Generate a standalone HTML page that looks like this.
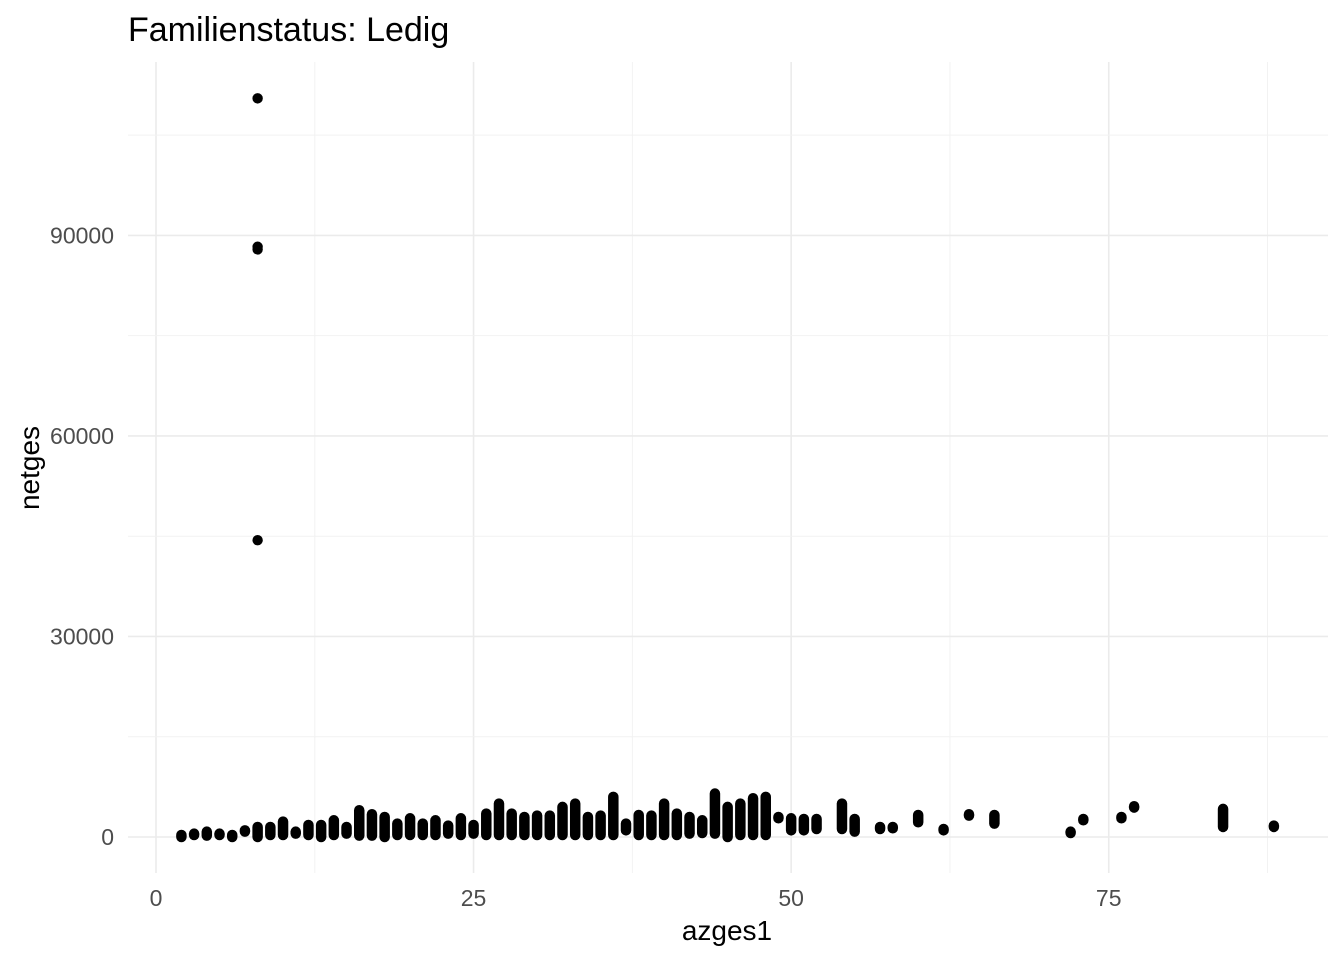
<!DOCTYPE html>
<html><head><meta charset="utf-8"><style>
body{margin:0;background:#fff;}
svg{display:block;font-family:"Liberation Sans",Arial,sans-serif;}
</style></head><body>
<svg id="chart" width="1344" height="960">
<text x="128" y="41" font-size="34" fill="#000">Familienstatus: Ledig</text>
<g id="grid"></g>
<g id="ticks"></g>
<g id="points"></g>
<text x="727" y="940" font-size="28" text-anchor="middle" fill="#000">azges1</text>
<text transform="translate(39,468) rotate(-90)" font-size="28" text-anchor="middle" fill="#000">netges</text>
</svg>
<script>
const xTicks=[0,25,50,75];
const yTicks=[0,30000,60000,90000];
const stripeX=[2,3,4,5,6,7,8,9,10,11,12,13,14,15,16,17,18,19,20,21,22,23,24,25,26,27,28,29,30,31,32,33,34,35,36,37,38,39,40,41,42,43,44,45,46,47,48,49,50,51,52,54,55,57,58,60,62,64,66,72,73,76,77,84,88];
const stripeMax=[300,500,800,500,300,1000,1500,1500,2300,800,1800,1800,2500,1500,4000,3400,3000,2000,2800,2000,2500,1700,2800,1800,3500,5000,3500,3000,3200,3200,4500,5000,3000,3200,6000,2000,3300,3200,5000,3500,3000,2500,6500,4500,5000,5800,6000,3000,2800,2700,2700,5000,2700,1500,1500,3300,1200,3400,3300,800,2700,3000,4600,4200,1700];
const stripeMin=[0,300,200,300,0,800,0,300,300,500,300,0,300,500,200,200,0,300,300,300,300,500,300,500,300,300,300,300,300,300,300,300,300,300,300,1000,300,300,300,300,500,600,500,0,300,300,300,2800,1000,1000,1200,1200,800,1200,1300,2200,1000,3200,2000,600,2500,2800,4400,1500,1500];
const outX=[8,8,8,8];
const outY=[110500,88300,87900,44400];
const xs=v=>156+v*12.703;
const ys=v=>837-v/149.6;
const NS="http://www.w3.org/2000/svg";
const grid=document.getElementById('grid'),ticks=document.getElementById('ticks'),pts=document.getElementById('points');
function ln(p,x1,y1,x2,y2,c,w){const l=document.createElementNS(NS,'line');l.setAttribute('x1',x1);l.setAttribute('y1',y1);l.setAttribute('x2',x2);l.setAttribute('y2',y2);l.setAttribute('stroke',c);l.setAttribute('stroke-width',w);p.appendChild(l);return l;}
const L=128,R=1328,T=62,B=873;
for(let i=0;i<xTicks.length;i++){
  const m=ln(grid,xs(xTicks[i]+12.5),T,xs(xTicks[i]+12.5),B,'#f2f2f2',1);
  
  
  const g=ln(grid,xs(xTicks[i]),T,xs(xTicks[i]),B,'#ebebeb',1.6);
  
  
  const t=document.createElementNS(NS,'text');t.setAttribute('x',xs(xTicks[i]));t.setAttribute('y',906);t.setAttribute('font-size',23);t.setAttribute('fill','#4d4d4d');t.setAttribute('text-anchor','middle');t.textContent=xTicks[i];
  
  
  ticks.appendChild(t);
}
for(let i=0;i<yTicks.length;i++){
  const m=ln(grid,L,ys(yTicks[i]+15000),R,ys(yTicks[i]+15000),'#f2f2f2',1);
  
  
  const g=ln(grid,L,ys(yTicks[i]),R,ys(yTicks[i]),'#ebebeb',1.6);
  
  
  const t=document.createElementNS(NS,'text');t.setAttribute('x',114);t.setAttribute('y',ys(yTicks[i])+8);t.setAttribute('font-size',23);t.setAttribute('fill','#4d4d4d');t.setAttribute('text-anchor','end');t.textContent=yTicks[i];
  
  
  ticks.appendChild(t);
}
for(let i=0;i<stripeX.length;i++){
  const s=ln(pts,xs(stripeX[i]),ys(stripeMin[i]),xs(stripeX[i]),ys(stripeMax[i]),'#000',10.5);
  s.setAttribute('stroke-linecap','round');
  
  
}
for(let i=0;i<outX.length;i++){
  const c=document.createElementNS(NS,'circle');c.setAttribute('cx',xs(outX[i]));c.setAttribute('cy',ys(outY[i]));c.setAttribute('r',5.2);c.setAttribute('fill','#000');
  
  
  pts.appendChild(c);
}
</script>
</body></html>
